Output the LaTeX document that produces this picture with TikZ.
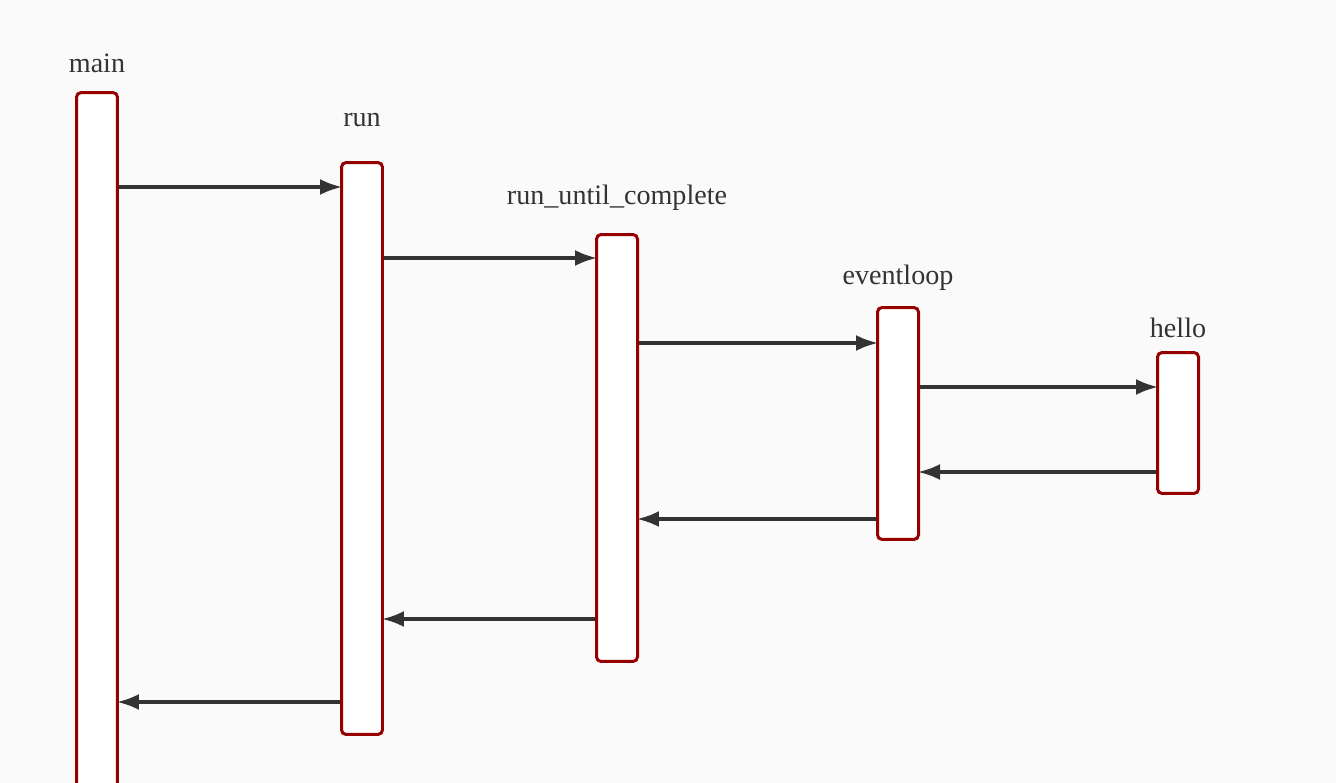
\documentclass[tikz,border=0pt]{standalone}
\usepackage{fontspec}
\setmainfont{Liberation Serif}
\usetikzlibrary{arrows.meta}
\definecolor{bgcol}{HTML}{FAFAFA}
\definecolor{boxred}{HTML}{960000}
\definecolor{linecol}{HTML}{333333}
\begin{document}
\begin{tikzpicture}[x=0.02cm,y=-0.02cm,>={Latex[length=4.4mm,width=3.2mm]},
	lifebox/.style={draw=boxred,fill=white,line width=0.06cm,rounded corners=0.09cm,minimum width=0.82cm,inner sep=0pt},
	lbl/.style={anchor=base,text=linecol,font=\fontsize{16}{19}\selectfont},
	call/.style={->,draw=linecol,line width=0.065cm,shorten >=-0.04cm}]
		\fill[bgcol] (0,0) rectangle (1336,783);
		\useasboundingbox (0,0) rectangle (1336,783);

		\node (main)  [lifebox,minimum height=14.3cm] at (97,450) {};
		\node (run)   [lifebox,minimum height=11.44cm] at (362,448.5) {};
		\node (ruc)   [lifebox,minimum height=8.54cm] at (617,448) {};
		\node (loop)  [lifebox,minimum height=4.64cm] at (898,423.5) {};
		\node (hello) [lifebox,minimum height=2.82cm] at (1178,423) {};

		\node (mainL)  [lbl] at (97,73) {main};
		\node (runL)   [lbl] at (362,127) {run};
		\node (rucL)   [lbl] at (617,205) {run\_until\_complete};
		\node (loopL)  [lbl] at (898,285) {eventloop};
		\node (helloL) [lbl] at (1178,338) {hello};

		\draw [call] (main.east |- 0,187) -- (run.west |- 0,187);
		\draw [call] (run.east |- 0,258) -- (ruc.west |- 0,258);
		\draw [call] (ruc.east |- 0,343) -- (loop.west |- 0,343);
		\draw [call] (loop.east |- 0,387) -- (hello.west |- 0,387);
		\draw [call] (hello.west |- 0,472) -- (loop.east |- 0,472);
		\draw [call] (loop.west |- 0,519) -- (ruc.east |- 0,519);
		\draw [call] (ruc.west |- 0,619) -- (run.east |- 0,619);
		\draw [call] (run.west |- 0,702) -- (main.east |- 0,702);
	\end{tikzpicture}
\end{document}
